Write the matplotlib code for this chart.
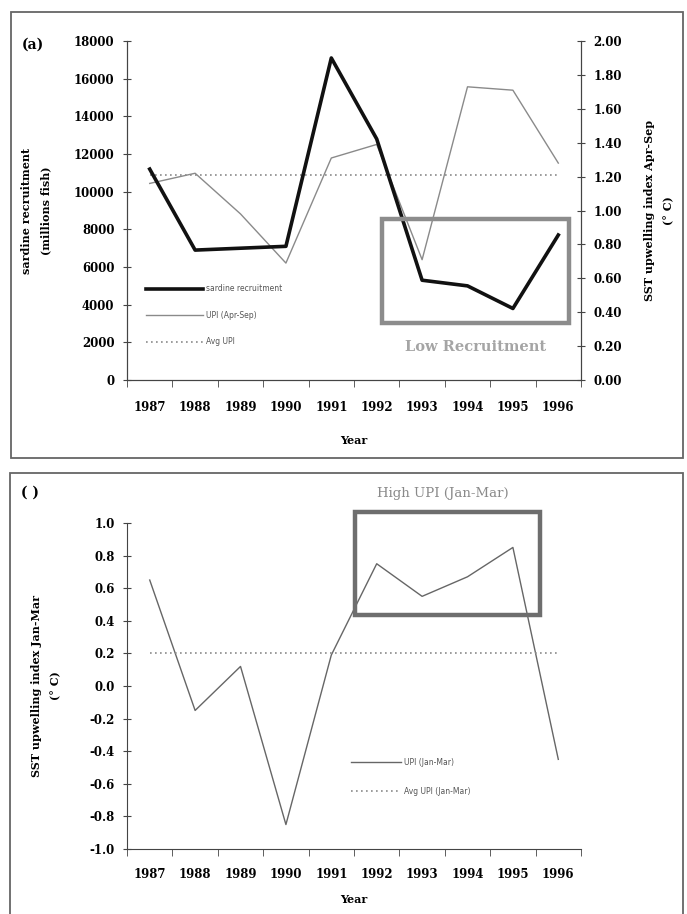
import matplotlib
matplotlib.use('Agg')
from matplotlib import pyplot as plt
from matplotlib.patches import Rectangle
from matplotlib.ticker import FormatStrFormatter, FixedLocator

years = ['1987', '1988', '1989', '1990', '1991', '1992', '1993', '1994', '1995', '1996']
recruitment = [11200, 6900, 7000, 7100, 17100, 12800, 5300, 5000, 3800, 7700]
upi_apr_sep = [1.16, 1.22, 0.98, 0.69, 1.31, 1.39, 0.71, 1.73, 1.71, 1.28]
avg_upi_apr_sep = [1.21] * len(years)
upi_jan_mar = [0.65, -0.15, 0.12, -0.85, 0.19, 0.75, 0.55, 0.67, 0.85, -0.45]
avg_upi_jan_mar = [0.20] * len(years)

serif = 'DejaVu Serif'
tick_font = dict(family=serif, weight='bold', size=8.5)
label_font = dict(family=serif, weight='bold', size=8)
spine_col = '#444444'

fig = plt.figure(figsize=(6.87, 9.14), dpi=100)

# panel frames
fig.add_artist(Rectangle((0.016, 0.499), 0.978, 0.488, transform=fig.transFigure,
                         fill=False, edgecolor='#666666', lw=1.3))
fig.add_artist(Rectangle((0.0146, -0.02), 0.979, 0.5025, transform=fig.transFigure,
                         fill=False, edgecolor='#666666', lw=1.3))

x = list(range(len(years)))


def style_xaxis(ax, pad, labelpad):
    ax.set_xlim(-0.5, len(years) - 0.5)
    ax.set_xticks(x)
    ax.set_xticklabels(years, fontdict=tick_font)
    ax.xaxis.set_minor_locator(FixedLocator([i - 0.5 for i in range(len(years) + 1)]))
    ax.tick_params(axis='x', which='major', length=0, pad=pad)
    ax.tick_params(axis='x', which='minor', length=5, direction='out', color=spine_col)
    ax.set_xlabel('Year', fontdict=label_font, labelpad=labelpad)


# ---------------- (a) ----------------
ax1 = fig.add_axes([0.1849, 0.5842, 0.6608, 0.3709])
ax2 = ax1.twinx()
for a in (ax1, ax2):
    a.spines['top'].set_visible(False)
    for s in a.spines.values():
        s.set_color(spine_col)

l1, = ax1.plot(x, recruitment, color='#111111', lw=2.6, label='sardine recruitment')
l2, = ax2.plot(x, upi_apr_sep, color='#8a8a8a', lw=1.0, label='UPI (Apr-Sep)')
l3, = ax2.plot(x, avg_upi_apr_sep, color='#8a8a8a', lw=1.2, ls=(0, (1, 2)), label='Avg UPI')
ax1.set_zorder(ax2.get_zorder() + 1)
ax1.patch.set_visible(False)

ax1.set_ylim(0, 18000)
ax1.set_yticks(range(0, 18001, 2000))
ax1.set_yticklabels([str(v) for v in range(0, 18001, 2000)], fontdict=tick_font)
ax1.tick_params(axis='y', direction='inout', length=6, color=spine_col, pad=6)
ax2.set_ylim(0, 2.0)
ax2.set_yticks([i * 0.2 for i in range(11)])
ax2.yaxis.set_major_formatter(FormatStrFormatter('%.2f'))
for t in ax2.get_yticklabels():
    t.set_fontfamily(serif)
    t.set_fontweight('bold')
    t.set_fontsize(8.5)
ax2.tick_params(axis='y', direction='inout', length=6, color=spine_col, pad=6)
style_xaxis(ax1, 15, 15)

ax1.set_ylabel('sardine recruitment\n(millions fish)', fontdict=label_font,
               labelpad=16, linespacing=1.9)
ax2.set_ylabel('SST upwelling index Apr-Sep\n(° C)', fontdict=label_font,
               rotation=90, labelpad=16, linespacing=1.9)

ax1.add_patch(Rectangle((5.12, 3027), 4.12, 5522, fill=False, edgecolor='#8c8c8c',
                        lw=3.2, clip_on=False, zorder=5))
ax1.text(7.17, 1752, 'Low Recruitment', ha='center', va='center', color='#a5a5a5',
         family=serif, weight='bold', size=10.5)

leg1 = ax1.legend(handles=[l1, l2, l3], loc='upper left', bbox_to_anchor=(0.212, 0.689),
                  bbox_transform=fig.transFigure, frameon=False, fontsize=5.5,
                  handlelength=7.5, handletextpad=0.4, labelspacing=2.3,
                  borderpad=0, borderaxespad=0)
for t in leg1.get_texts():
    t.set_color('#555555')

fig.text(0.032, 0.951, '(a)', family=serif, weight='bold', size=10, va='center')

# ---------------- (b) ----------------
ax3 = fig.add_axes([0.1849, 0.0711, 0.6608, 0.3567])
ax3.spines['top'].set_visible(False)
ax3.spines['right'].set_visible(False)
for s in ax3.spines.values():
    s.set_color(spine_col)

m1, = ax3.plot(x, upi_jan_mar, color='#666666', lw=1.0, label='UPI (Jan-Mar)')
m2, = ax3.plot(x, avg_upi_jan_mar, color='#8a8a8a', lw=1.2, ls=(0, (1, 2)),
               label='Avg UPI (Jan-Mar)')
ax3.set_ylim(-1.0, 1.0)
yt = [round(-1.0 + 0.2 * i, 1) for i in range(11)]
ax3.set_yticks(yt)
ax3.set_yticklabels(['%.1f' % v for v in yt], fontdict=tick_font)
ax3.tick_params(axis='y', direction='inout', length=6, color=spine_col, pad=6)
style_xaxis(ax3, 14, 9)
ax3.set_ylabel('SST upwelling index Jan-Mar\n(° C)', fontdict=label_font,
               labelpad=20, linespacing=1.9)

ax3.add_patch(Rectangle((4.52, 0.435), 4.08, 0.632, fill=False, edgecolor='#6e6e6e',
                        lw=3.2, clip_on=False, zorder=5))
fig.text(0.645, 0.4606, 'High UPI (Jan-Mar)', ha='center', va='center', color='#8a8a8a',
         family=serif, size=9.5)

leg2 = ax3.legend(handles=[m1, m2], loc='upper left', bbox_to_anchor=(0.511, 0.171),
                  bbox_transform=fig.transFigure, frameon=False, fontsize=5.5,
                  handlelength=6.5, handletextpad=0.4, labelspacing=2.6,
                  borderpad=0, borderaxespad=0)
for t in leg2.get_texts():
    t.set_color('#555555')

fig.text(0.03, 0.4606, '( )', family=serif, weight='bold', size=10, va='center')

fig.savefig('out.png', dpi=100)
